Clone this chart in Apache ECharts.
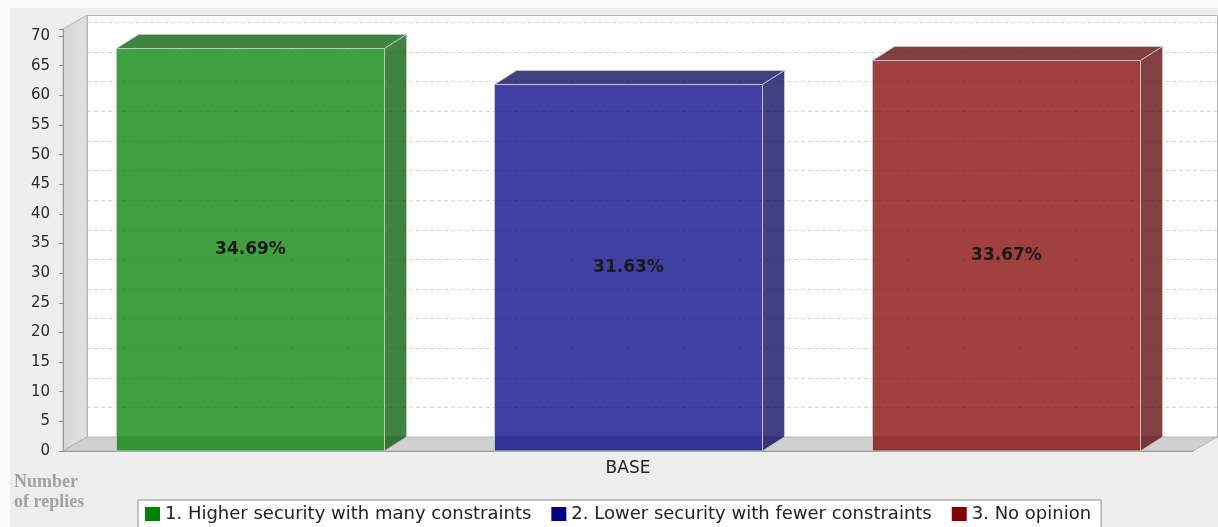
<!DOCTYPE html>
<html>
<head>
<meta charset="utf-8">
<script src="https://cdn.jsdelivr.net/npm/echarts@6/dist/echarts.min.js"></script>
<style>
  html, body { margin: 0; padding: 0; background: #fbfbfb; }
  #chart { position: absolute; left: 10px; top: 8px; width: 1208px; height: 519px; }
</style>
</head>
<body>
<div id="chart"></div>
<script>
// Survey replies per answer, one category
const categories = ['BASE'];
const seriesNames = [
  '1. Higher security with many constraints',
  '2. Lower security with fewer constraints',
  '3. No opinion'
];
const replies = [68, 62, 66];
const seriesColors = ['#008000', '#000080', '#800000'];
const yMax = 71.2;
const yStep = 5;

// 3D look: depth of the walls and of each bar
const WALL_DX = 24, WALL_DY = 14;
const BAR_DX = 22, BAR_DY = 14;
const BAR_ALPHA = 0.75;

const total = replies.reduce((a, b) => a + b, 0);

function rgba(hex, factor, alpha) {
  const n = parseInt(hex.slice(1), 16);
  const r = Math.floor(((n >> 16) & 255) * factor);
  const g = Math.floor(((n >> 8) & 255) * factor);
  const b = Math.floor((n & 255) * factor);
  return 'rgba(' + r + ',' + g + ',' + b + ',' + alpha + ')';
}

// Back wall, left wall, floor and dashed grid lines of the 3D plot
function renderFrame(params, api) {
  const cs = params.coordSys;
  const x0 = cs.x, y0 = cs.y, x1 = cs.x + cs.width, y1 = cs.y + cs.height;
  const edge = '#b4b4b4';
  const children = [];
  children.push({
    type: 'rect',
    shape: { x: x0 + WALL_DX + 0.5, y: y0 - WALL_DY + 0.5, width: cs.width, height: cs.height },
    style: { fill: '#ffffff', stroke: edge, lineWidth: 1 }
  });
  for (let v = yStep; v < yMax; v += yStep) {
    const y = Math.round(api.coord([0, v])[1] - WALL_DY) + 0.5;
    children.push({
      type: 'line',
      shape: { x1: x0 + WALL_DX, y1: y, x2: x1 + WALL_DX, y2: y },
      style: { stroke: '#d6d6d6', lineWidth: 1, lineDash: [4, 3] }
    });
  }
  children.push({
    type: 'polygon',
    shape: { points: [[x0, y0], [x0 + WALL_DX, y0 - WALL_DY], [x0 + WALL_DX, y1 - WALL_DY], [x0, y1]] },
    style: {
      fill: new echarts.graphic.LinearGradient(0, 0, 1, 0, [
        { offset: 0, color: '#d6d6d6' }, { offset: 1, color: '#e2e2e2' }
      ]),
      stroke: edge, lineWidth: 1
    }
  });
  children.push({
    type: 'polygon',
    shape: { points: [[x0, y1], [x0 + WALL_DX, y1 - WALL_DY], [x1 + WALL_DX, y1 - WALL_DY], [x1, y1]] },
    style: { fill: '#d0d0d0', stroke: edge, lineWidth: 1 }
  });
  return { type: 'group', children: children };
}

// One 3D bar with its share label on the front face
function renderBar(params, api) {
  const i = params.seriesIndex;
  const color = seriesColors[i];
  const val = api.value(1);
  const base = api.coord([api.value(0), 0]);
  const top = api.coord([api.value(0), val]);
  const band = api.size([1, 0])[0];
  const cx = base[0] + (i - 1) * band * 0.3341;
  const w = band * 0.2372;
  const xl = Math.round(cx - w / 2) + 0.5, xr = Math.round(cx + w / 2) + 0.5;
  const yt = Math.round(top[1]) + 0.5, yb = base[1];
  const front = rgba(color, 1, BAR_ALPHA);
  const dark = rgba(color, 0.7, BAR_ALPHA);
  const outline = '#c4c4c4';
  const pct = (val / total * 100).toFixed(2) + '%';
  return {
    type: 'group',
    children: [
      {
        type: 'polygon',
        shape: { points: [[xl, yt], [xl + BAR_DX, yt - BAR_DY], [xr + BAR_DX, yt - BAR_DY], [xr, yt]] },
        style: { fill: dark, stroke: outline, lineWidth: 1 }
      },
      {
        type: 'polygon',
        shape: { points: [[xr, yt], [xr + BAR_DX, yt - BAR_DY], [xr + BAR_DX, yb - BAR_DY], [xr, yb]] },
        style: { fill: dark, stroke: outline, lineWidth: 1 }
      },
      {
        type: 'rect',
        shape: { x: xl, y: yt, width: xr - xl, height: yb - yt },
        style: { fill: front, stroke: outline, lineWidth: 1 }
      },
      {
        type: 'text',
        x: (xl + xr) / 2,
        y: (yt + yb) / 2,
        style: {
          text: pct,
          fill: '#1a1a1a',
          font: 'bold 17px "DejaVu Sans", sans-serif',
          align: 'center',
          verticalAlign: 'middle'
        }
      }
    ]
  };
}

const chart = echarts.init(document.getElementById('chart'), null, { renderer: 'canvas' });

const barSeries = seriesNames.map((name, i) => ({
  type: 'custom',
  name: name,
  z: 3,
  silent: true,
  itemStyle: { color: seriesColors[i] },
  encode: { x: 0, y: 1 },
  data: [[0, replies[i]]],
  renderItem: renderBar
}));

chart.setOption({
  animation: false,
  backgroundColor: '#eeeeee',
  textStyle: { fontFamily: '"DejaVu Sans", sans-serif' },
  title: {
    text: 'Number\nof replies',
    left: 4,
    top: 464,
    padding: 0,
    textStyle: {
      fontFamily: '"Liberation Serif", serif',
      fontWeight: 'bold',
      fontSize: 18,
      lineHeight: 20,
      color: '#a2a2a2'
    }
  },
  legend: {
    data: seriesNames,
    left: 128,
    top: 492,
    orient: 'horizontal',
    icon: 'rect',
    itemWidth: 15,
    itemHeight: 14,
    itemGap: 20,
    padding: [5, 10, 12, 7],
    backgroundColor: '#ffffff',
    borderColor: '#8c8c8c',
    borderWidth: 1,
    borderRadius: 0,
    selectedMode: false,
    textStyle: { fontSize: 18, color: '#222222', fontFamily: '"DejaVu Sans", sans-serif' }
  },
  grid: { left: 53, top: 21, width: 1130, height: 422 },
  xAxis: {
    type: 'category',
    data: categories,
    axisLine: { show: true, lineStyle: { color: '#9a9a9a' } },
    axisTick: { show: false },
    axisLabel: { color: '#222', fontSize: 17, margin: 9 },
    splitLine: { show: false }
  },
  yAxis: {
    type: 'value',
    min: 0,
    max: yMax,
    interval: yStep,
    axisLine: { show: true, lineStyle: { color: '#9a9a9a' } },
    axisTick: { show: true, length: 4, lineStyle: { color: '#888' } },
    axisLabel: {
      color: '#2a2a2a',
      fontSize: 15,
      margin: 13,
      formatter: v => (v % yStep === 0 ? String(v) : '')
    },
    splitLine: { show: false }
  },
  series: barSeries.concat([{
    type: 'custom',
    name: 'frame',
    z: 0,
    silent: true,
    encode: { x: 0, y: 1 },
    data: [[0, 0]],
    renderItem: renderFrame
  }])
});
</script>
</body>
</html>
